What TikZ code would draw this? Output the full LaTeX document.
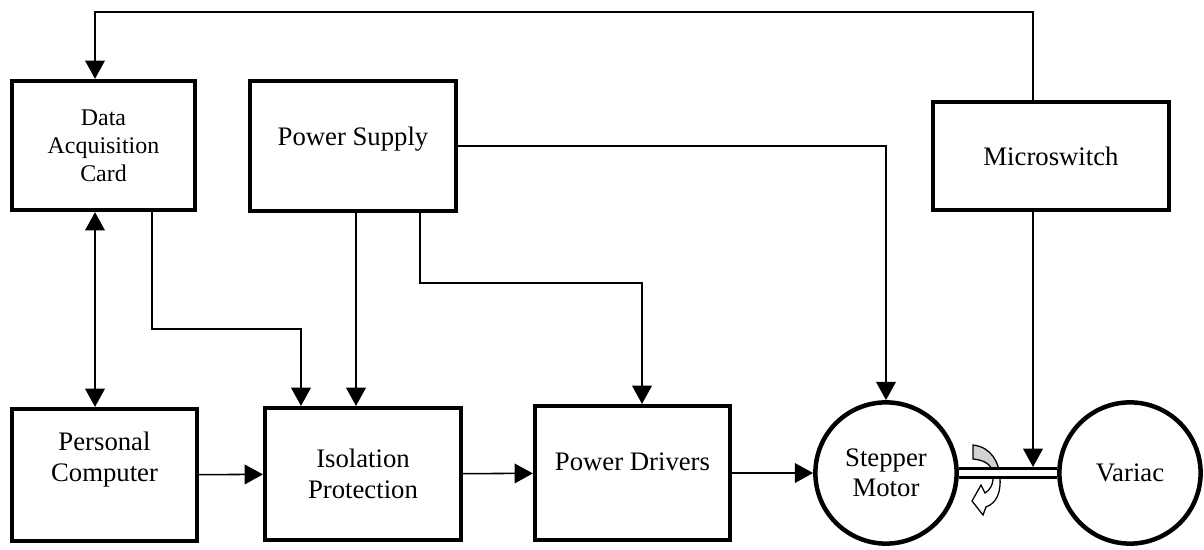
\documentclass[tikz,border=0pt]{standalone}
\usepackage{fontspec}
\setmainfont{Liberation Serif}
\usepackage{tikz}
\usetikzlibrary{arrows.meta}
\tikzstyle{e}=[line width=1.1pt,-{Triangle[length=13pt,width=14pt]}]
\tikzstyle{e-both}=[e,{Triangle[length=13pt,width=14pt]}-{Triangle[length=13pt,width=14pt]}]
\tikzstyle{block}=[rectangle,draw,line width=3.2pt,inner sep=0pt,align=center,font=\fontsize{19}{22}\selectfont]
\tikzstyle{wheel}=[circle,draw,line width=3.2pt,inner sep=0pt,align=center,minimum size=3.53cm,font=\fontsize{19}{21}\selectfont]
\tikzstyle{shaft}=[double,line width=2.2pt,double distance=4pt]

\begin{document}
\begin{tikzpicture}[x=0.025cm,y=-0.025cm]
\useasboundingbox (0,0) rectangle (1204,550);

% Nodes
\node[block,minimum width=4.57cm,minimum height=3.22cm,font=\fontsize{17}{20}\selectfont]
                       (daq)    at (103.5,145.5) {Data\\Acquisition\\Card};
\node[block,minimum width=5.14cm,minimum height=3.24cm,text depth=14pt]
                       (supply) at (353,146)     {Power Supply};
\node[block,minimum width=5.89cm,minimum height=2.69cm]
                       (ms)     at (1051,156)    {Microswitch};
\node[block,minimum width=4.62cm,minimum height=3.29cm,text depth=26pt]
                       (pc)     at (104.5,475)   {Personal\\Computer};
\node[block,minimum width=4.89cm,minimum height=3.29cm]
                       (iso)    at (363,474)     {Isolation\\Protection};
\node[block,minimum width=4.87cm,minimum height=3.34cm,text depth=16pt]
                       (drv)    at (632.5,473)   {Power Drivers};
\node[wheel]           (motor)  at (886,473)     {Stepper\\Motor};
\node[wheel]           (variac) at (1130,473)    {Variac};

% Bends
\coordinate (fb)  at (95,12);
\coordinate (sw)  at (1033,12);
\coordinate (d1)  at (152,329);
\coordinate (d2)  at (301,329);
\coordinate (p1)  at (356,283);
\coordinate (p2)  at (420,283);
\coordinate (p3)  at (642,283);
\coordinate (hit) at (1033,467);

% Rotation mark
\draw[line width=0.9pt,fill=gray!35]
  (973,445) .. controls (991,447) and (999,462) .. (1000,477)
  -- (993,472) .. controls (991,465) and (985,460) .. (973,459) -- cycle;
\draw[line width=0.9pt,fill=white]
  (993,472) .. controls (994,485) and (990,490) .. (985,493)
  -- (981,485) -- (972,501) -- (983,515) -- (986,507)
  .. controls (997,503) and (1001,492) .. (1000,477) -- cycle;

% Edges
\draw (pc)    edge[e]      (iso)
      (iso)   edge[e]      (drv)
      (drv)   edge[e]      (motor)
      (daq.south -| fb)    edge[e-both] (pc.north -| fb)
      (supply.south -| p1) edge[e]      (iso.north -| p1);
\draw[e] (ms.north -| sw) -- (sw) -- (fb) -- (daq.north -| fb);
\draw[e] (daq.south -| d1) -- (d1) -- (d2) -- (iso.north -| d2);
\draw[e] (supply.south -| p2) -- (p2) -- (p3) -- (drv.north -| p3);
\draw[e] (supply.east) -| (motor.north);
\draw[shaft] (motor.east) -- (variac.west);
\draw[e] (ms.south -| sw) -- (hit);

\end{tikzpicture}
\end{document}
